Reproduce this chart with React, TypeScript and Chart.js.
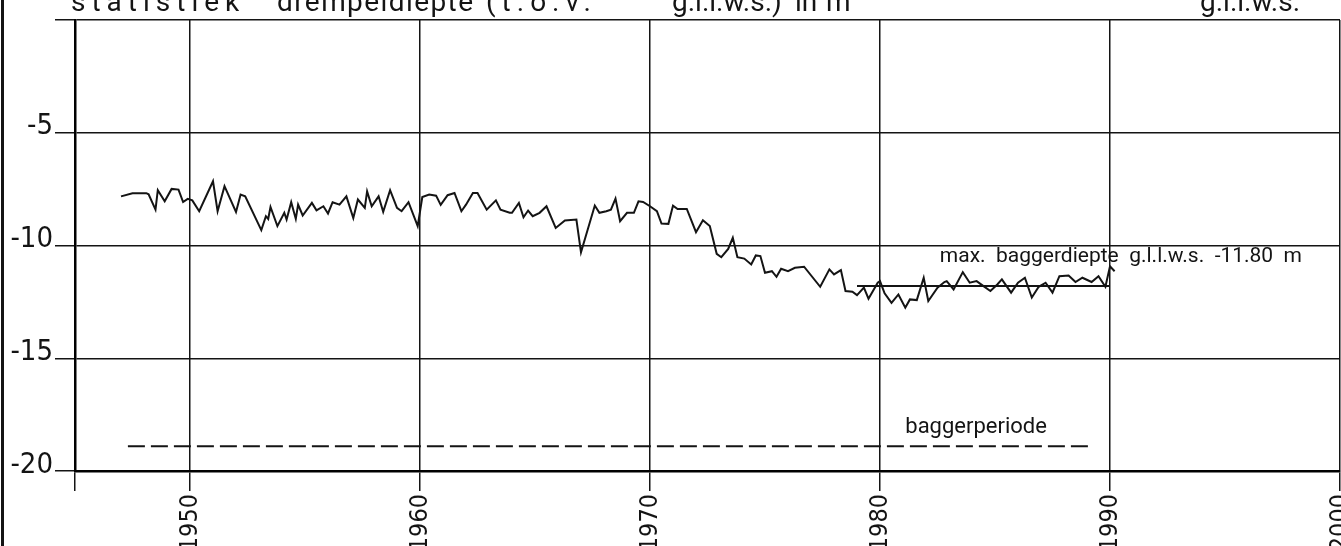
import React, { useEffect, useRef } from "react";
import { Chart, registerables } from "chart.js";

Chart.register(...registerables);

// ---- data ----
const years = [
  1947.0, 1947.5, 1948.1, 1948.2, 1948.5, 1948.6, 1948.9, 1949.2, 1949.5, 1949.7, 1949.9,
  1950.1, 1950.4, 1951.0, 1951.2, 1951.5, 1952.0, 1952.2, 1952.4, 1953.1, 1953.3, 1953.4,
  1953.5, 1953.8, 1954.1, 1954.2, 1954.4, 1954.6, 1954.7, 1954.9, 1955.3, 1955.5, 1955.8,
  1956.0, 1956.2, 1956.5, 1956.8, 1957.1, 1957.3, 1957.6, 1957.7, 1957.9, 1958.2, 1958.4,
  1958.7, 1959.0, 1959.2, 1959.5, 1959.9, 1960.1, 1960.4, 1960.7, 1960.9,
  1961.2, 1961.5, 1961.8, 1962.0, 1962.3, 1962.5, 1962.9, 1963.3, 1963.5, 1963.9, 1964.0,
  1964.3, 1964.5, 1964.7, 1964.9, 1965.2, 1965.5, 1965.9, 1966.3, 1966.8, 1967.0, 1967.6,
  1967.8, 1968.1, 1968.3, 1968.5, 1968.7, 1969.0, 1969.3, 1969.5, 1969.7, 1970.0, 1970.3,
  1970.5, 1970.8, 1971.0, 1971.2, 1971.6, 1972.0, 1972.3, 1972.6, 1972.9, 1973.1, 1973.4,
  1973.6, 1973.8, 1974.1, 1974.4, 1974.6, 1974.8, 1975.0, 1975.3, 1975.5, 1975.7,
  1976.0, 1976.3, 1976.7, 1977.4, 1977.8, 1978.0, 1978.3, 1978.5, 1978.8, 1979.0, 1979.3,
  1979.5, 1979.9, 1980.0, 1980.2, 1980.5, 1980.8, 1981.1, 1981.3, 1981.6, 1981.9, 1982.1,
  1982.5, 1982.8, 1982.9, 1983.2, 1983.6, 1983.9, 1984.2, 1984.5, 1984.8, 1985.1, 1985.3,
  1985.7, 1986.0, 1986.3, 1986.6, 1986.9, 1987.2, 1987.5, 1987.8, 1988.2, 1988.5, 1988.8,
  1989.2, 1989.5, 1989.8, 1990.0, 1990.2,
];

const depths = [
  -7.82, -7.68, -7.68, -7.73, -8.41, -7.55, -8.04, -7.49, -7.52, -8.07, -7.93,
  -8.0, -8.48, -7.15, -8.48, -7.37, -8.51, -7.74, -7.82, -9.32, -8.7, -8.82,
  -8.29, -9.14, -8.55, -8.85, -8.08, -8.82, -8.19, -8.67, -8.11, -8.44, -8.26,
  -8.58, -8.08, -8.19, -7.82, -8.78, -7.96, -8.33, -7.6, -8.26, -7.82, -8.51,
  -7.55, -8.33, -8.48, -8.08, -9.14, -7.85, -7.74, -7.79, -8.2,
  -7.77, -7.67, -8.48, -8.19, -7.67, -7.67, -8.41, -8.0, -8.41, -8.55, -8.55,
  -8.11, -8.75, -8.45, -8.7, -8.55, -8.26, -9.22, -8.89, -8.85, -10.3, -8.23,
  -8.55, -8.48, -8.41, -7.92, -8.92, -8.55, -8.55, -8.04, -8.07, -8.26, -8.48,
  -9.03, -9.04, -8.23, -8.38, -8.38, -9.41, -8.88, -9.14, -10.37, -10.52, -10.15,
  -9.66, -10.52, -10.58, -10.84, -10.44, -10.47, -11.21, -11.14, -11.39, -11.03,
  -11.14, -10.99, -10.94, -11.83, -11.06, -11.28, -11.09, -12.02, -12.05, -12.2, -11.87,
  -12.36, -11.65, -11.58, -12.12, -12.54, -12.17, -12.76, -12.39, -12.42, -11.43, -12.46,
  -11.87, -11.62, -11.58, -11.95, -11.18, -11.65, -11.58, -11.8, -12.02, -11.73, -11.5,
  -12.09, -11.65, -11.43, -12.31, -11.83, -11.65, -12.09, -11.36, -11.33, -11.62, -11.43,
  -11.62, -11.36, -11.83, -10.92, -11.14,
];

const dredgeLimitLevel = -11.8;
const dredgeLimitYears = [1979.0, 1990.0];
const dredgePeriodLevel = -18.9;
const dredgePeriodYears = [1947.3, 1989.2];

const xTicks = [1945, 1950, 1960, 1970, 1980, 1990, 2000];
const yTicks = [-20, -15, -10, -5, 0];

const titleWords = ["statistiek", "drempeldiepte", "(t.o.v.", "g.l.l.w.s.)", "in", "m", "g.l.l.w.s."];
const limitLabel = "max.  baggerdiepte  g.l.l.w.s.  -11.80  m";
const periodLabel = "baggerperiode";

const INK = "#141414";
const FONT = "'Liberation Sans Narrow', 'DejaVu Sans Condensed', Roboto, sans-serif";

function fitText(ctx: CanvasRenderingContext2D, text: string, x0: number, x1: number, y: number, maxSp = 20) {
  (ctx as any).letterSpacing = "0px";
  const w = ctx.measureText(text).width;
  const n = text.length;
  let sp = n > 1 ? (x1 - x0 - w) / (n - 1) : 0;
  if (sp < 0) sp = 0;
  if (sp > maxSp) sp = maxSp;
  (ctx as any).letterSpacing = sp.toFixed(2) + "px";
  ctx.fillText(text, x0, y);
  (ctx as any).letterSpacing = "0px";
}

const textPlugin = {
  id: "scanText",
  afterDraw(chart: any) {
    const ctx: CanvasRenderingContext2D = chart.ctx;
    const xs = chart.scales.x;
    const ys = chart.scales.y;
    ctx.save();
    ctx.fillStyle = INK;
    ctx.strokeStyle = INK;
    ctx.textAlign = "left";
    ctx.textBaseline = "alphabetic";

    // title, cut off at top edge
    ctx.font = "28px Roboto, sans-serif";
    const spans: [number, number][] = [
      [71, 243], [277, 473], [486, 625], [672, 780], [795, 795], [826, 826], [1200, 1300],
    ];
    titleWords.forEach((w, i) => fitText(ctx, w, spans[i][0], spans[i][1], 11, 6));

    // annotations placed in data space
    ctx.font = "21px Roboto, sans-serif";
    const lx = xs.getPixelForValue(1982.6);
    const ly = ys.getPixelForValue(-10.75);
    fitText(ctx, limitLabel, lx, lx + 361, ly);

    ctx.font = "22px Roboto, sans-serif";
    const px = xs.getPixelForValue(1981.1);
    const py = ys.getPixelForValue(-18.3);
    fitText(ctx, periodLabel, px, px + 129, py);

    // scan edge at left
    ctx.lineWidth = 3;
    ctx.beginPath();
    ctx.moveTo(2.5, 0);
    ctx.lineTo(2.5, chart.height);
    ctx.stroke();
    ctx.restore();
  },
};

export default function App() {
  const ref = useRef<HTMLCanvasElement | null>(null);

  useEffect(() => {
    if (!ref.current) return;
    const chart = new Chart(ref.current, {
      type: "line",
      data: {
        datasets: [
          {
            data: years.map((y, i) => ({ x: y, y: depths[i] })),
            borderColor: INK,
            borderWidth: 2,
            pointRadius: 0,
            tension: 0,
          },
          {
            data: dredgeLimitYears.map((y) => ({ x: y, y: dredgeLimitLevel })),
            borderColor: INK,
            borderWidth: 2,
            pointRadius: 0,
          },
          {
            data: dredgePeriodYears.map((y) => ({ x: y, y: dredgePeriodLevel })),
            borderColor: INK,
            borderWidth: 2,
            borderDash: [17, 6],
            pointRadius: 0,
          },
        ],
      },
      plugins: [textPlugin],
      options: {
        animation: false,
        responsive: true,
        maintainAspectRatio: false,
        layout: { padding: { top: 20, right: 1, left: 0, bottom: 0 } },
        plugins: { legend: { display: false }, tooltip: { enabled: false }, title: { display: false } },
        scales: {
          x: {
            type: "linear",
            min: 1945,
            max: 2000,
            afterBuildTicks: (s: any) => {
              s.ticks = xTicks.map((v) => ({ value: v }));
            },
            afterFit: (s: any) => {
              s.height = 75;
              s.paddingLeft = 0;
              s.paddingRight = 0;
            },
            ticks: {
              autoSkip: false,
              minRotation: 90,
              maxRotation: 90,
              padding: 3,
              color: INK,
              font: { family: FONT, size: 25 },
              callback: (v: any) => (v === 1945 ? "" : String(v)),
            },
            grid: { color: INK, lineWidth: 1.5, tickLength: 20, drawTicks: true },
            border: { display: true, color: "#000", width: 2.5 },
          },
          y: {
            type: "linear",
            min: -20,
            max: 0,
            afterBuildTicks: (s: any) => {
              s.ticks = yTicks.map((v) => ({ value: v }));
            },
            afterFit: (s: any) => {
              s.width = 75;
              s.paddingTop = 0;
              s.paddingBottom = 0;
            },
            ticks: {
              padding: 2,
              labelOffset: -6,
              color: INK,
              font: { family: FONT, size: 29 },
              callback: (v: any) => (v === 0 ? "" : String(v)),
            },
            grid: { color: INK, lineWidth: 1.5, tickLength: 20, drawTicks: true },
            border: { display: true, color: "#000", width: 2.5 },
          },
        },
      },
    });
    return () => chart.destroy();
  }, []);

  return (
    <div style={{ position: "fixed", left: 0, top: 0, width: 1341, height: 546, background: "#fff" }}>
      <canvas ref={ref} />
    </div>
  );
}
